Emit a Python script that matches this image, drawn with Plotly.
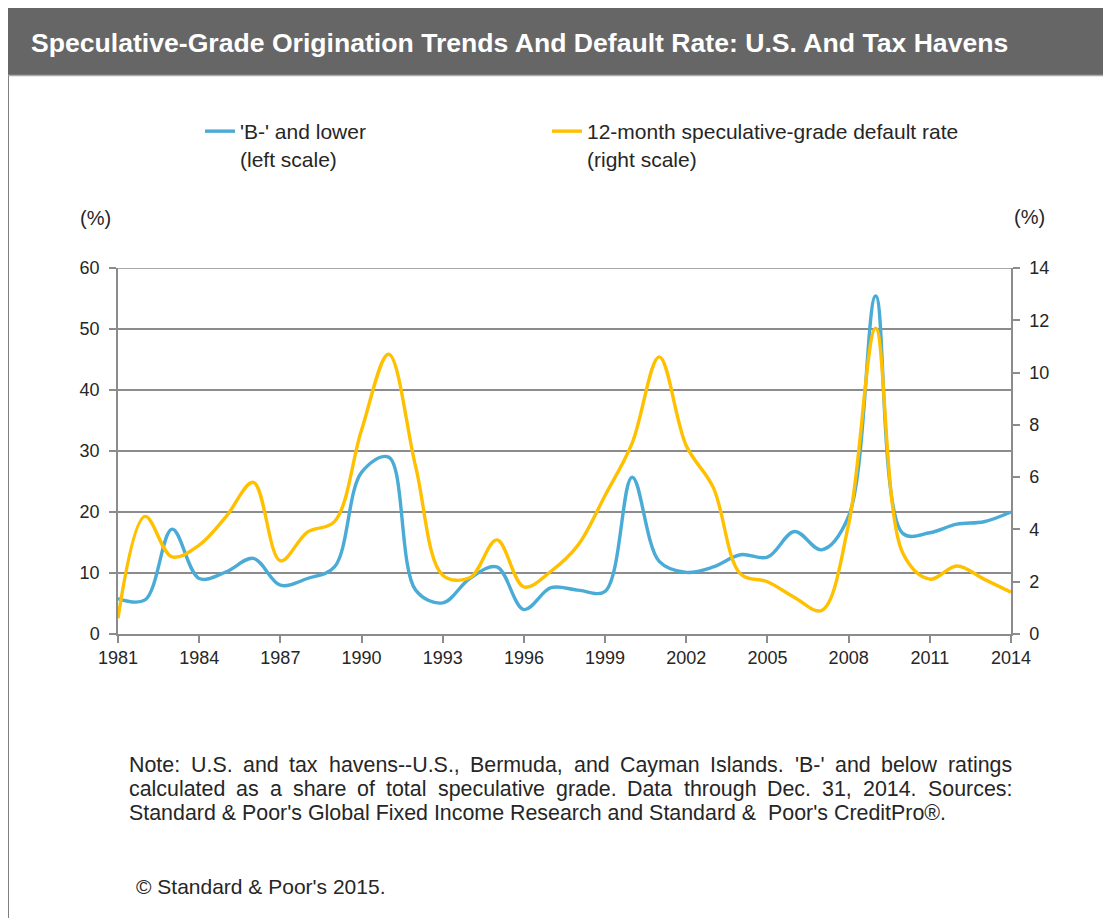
import plotly.graph_objects as go

# ---------------- data ----------------
years = list(range(1981, 2015))
b_minus_share = [5.8, 5.6, 17.2, 9.1, 10.2, 12.4, 8.0, 9.1, 11.0, 26.5,
                 29.0, 7.2, 5.1, 9.1, 11.0, 4.0, 7.6, 7.2, 7.0, 25.7,
                 11.9, 10.1, 11.0, 13.0, 12.6, 16.8, 13.8, 19.3, 55.4, 16.5,
                 16.6, 18.0, 18.4, 20.0]
default_rate = [0.6, 4.5, 2.95, 3.4, 4.5, 5.8, 2.8, 3.9, 4.3, 7.8,
                10.7, 6.4, 2.25, 2.15, 3.6, 1.8, 2.4, 3.4, 5.3, 7.3,
                10.6, 7.2, 5.6, 2.3, 2.0, 1.4, 0.9, 4.2, 11.7, 3.1,
                2.1, 2.6, 2.1, 1.6]
x_ticks = list(range(1981, 2015, 3))
left_ticks = [0, 10, 20, 30, 40, 50, 60]
right_ticks = [0, 2, 4, 6, 8, 10, 12, 14]

series_names = ["'B-' and lower<br>(left scale)",
                "12-month speculative-grade default rate<br>(right scale)"]
title_text = "Speculative-Grade Origination Trends And Default Rate: U.S. And Tax Havens"
note_lines = [
    "Note: U.S. and tax havens--U.S., Bermuda, and Cayman Islands. 'B-' and below  ratings",
    "calculated as a share of total speculative grade. Data through Dec. 31,  2014. Sources:",
    "Standard & Poor's Global Fixed Income Research and Standard &  Poor's CreditPro®.",
]
copyright_text = "© Standard & Poor's 2015."

# ---------------- layout helpers ----------------
W, H = 1111, 918
OFF = 8                                   # page body margin
# plot area in page (reference) pixels
RL, RR, RT, RB = 118, 1011, 268, 634
PL, PR, PT, PB = RL - OFF, RR - OFF, RT - OFF, RB - OFF


def px(xr):
    return (xr - RL) / (RR - RL)


def py(yr):
    return (RB - yr) / (RB - RT)


FONT = "Liberation Sans, Arial, sans-serif"
BLUE = "#4AACD6"
YELLOW = "#FFC000"
GRID = "#8C8C8C"
TEXT = "#262626"

# Arial / Liberation Sans advance widths (1/1000 em) for text justification
AW = {' ': 278, '!': 278, "'": 191, '(': 333, ')': 333, ',': 278, '-': 333, '.': 278,
      ':': 278, '&': 667, '®': 737, '©': 737,
      '0': 556, '1': 556, '2': 556, '3': 556, '4': 556, '5': 556, '6': 556, '7': 556,
      '8': 556, '9': 556,
      'A': 667, 'B': 667, 'C': 722, 'D': 722, 'E': 667, 'F': 611, 'G': 778, 'H': 722,
      'I': 278, 'J': 500, 'K': 667, 'L': 556, 'M': 833, 'N': 722, 'O': 778, 'P': 667,
      'Q': 778, 'R': 722, 'S': 667, 'T': 611, 'U': 722, 'V': 667, 'W': 944, 'X': 667,
      'Y': 667, 'Z': 611,
      'a': 556, 'b': 556, 'c': 500, 'd': 556, 'e': 556, 'f': 278, 'g': 556, 'h': 556,
      'i': 222, 'j': 222, 'k': 500, 'l': 222, 'm': 833, 'n': 556, 'o': 556, 'p': 556,
      'q': 556, 'r': 333, 's': 500, 't': 278, 'u': 556, 'v': 500, 'w': 722, 'x': 500,
      'y': 500, 'z': 500}


def text_w(s, size):
    return sum(AW.get(c, 556) for c in s) * size / 1000.0


fig = go.Figure()
fig.add_trace(go.Scatter(x=years, y=b_minus_share, name=series_names[0],
                         mode="lines", line=dict(color=BLUE, width=3.4, shape="spline", smoothing=1.0),
                         yaxis="y", legend="legend"))
fig.add_trace(go.Scatter(x=years, y=default_rate, name=series_names[1],
                         mode="lines", line=dict(color=YELLOW, width=3.4, shape="spline", smoothing=1.0),
                         yaxis="y2", legend="legend2"))

LEG_FONT = 21
leg_common = dict(orientation="v", xanchor="left", yanchor="top", valign="top",
                  font=dict(size=LEG_FONT, color=TEXT), bgcolor="rgba(0,0,0,0)",
                  itemclick=False, itemdoubleclick=False)

fig.update_layout(
    width=W, height=H,
    margin=dict(l=PL, r=W - PR, t=PT, b=H - PB, pad=0),
    paper_bgcolor="white", plot_bgcolor="white",
    font=dict(family=FONT, size=16, color=TEXT),
    showlegend=True,
    legend=dict(x=px(200), y=py(111), **leg_common),
    legend2=dict(x=px(547), y=py(111), **leg_common),
    xaxis=dict(range=[1981, 2014], tickmode="array", tickvals=x_ticks,
               ticktext=[str(t) for t in x_ticks],
               showgrid=False, zeroline=False, showline=True, linecolor=GRID, linewidth=1.5,
               ticks="outside", ticklen=7, tickcolor=GRID, tickwidth=1.5,
               tickfont=dict(size=18, color=TEXT), fixedrange=True),
    yaxis=dict(range=[0, 60], tickmode="array", tickvals=left_ticks,
               showgrid=True, gridcolor=GRID, gridwidth=1.5, zeroline=False,
               showline=True, linecolor=GRID, linewidth=1.5,
               ticks="outside", ticklen=7, tickcolor=GRID, tickwidth=1.5,
               ticklabelstandoff=6,
               tickfont=dict(size=18, color=TEXT), fixedrange=True),
    yaxis2=dict(range=[0, 14], tickmode="array", tickvals=right_ticks,
                overlaying="y", side="right", showgrid=False, zeroline=False,
                showline=True, linecolor=GRID, linewidth=1.5,
                ticks="outside", ticklen=7, tickcolor=GRID, tickwidth=1.5,
                ticklabelstandoff=6,
                tickfont=dict(size=18, color=TEXT), fixedrange=True),
)

shapes = [
    # header band
    dict(type="rect", xref="paper", yref="paper", x0=px(4), x1=px(W + 20), y0=py(75), y1=py(8),
         fillcolor="#666666", line=dict(width=0), layer="below"),
    dict(type="line", xref="paper", yref="paper", x0=px(4), x1=px(W + 20), y0=py(75.5), y1=py(75.5),
         line=dict(color="#AAAAAA", width=1.5)),
    # left frame line
    dict(type="line", xref="paper", yref="paper", x0=px(8), x1=px(8), y0=py(76), y1=py(H + 20),
         line=dict(color="#7F7F7F", width=2)),
    # top gridline at 60
    dict(type="line", xref="paper", yref="y", x0=0, x1=1, y0=60, y1=60,
         line=dict(color=GRID, width=1.5), layer="below"),
]

annotations = [
    dict(text="<b>" + title_text + "</b>", xref="paper", yref="paper", x=px(29), y=py(43),
         xanchor="left", yanchor="middle", showarrow=False,
         font=dict(family=FONT, size=26.6, color="white")),
    dict(text="(%)", xref="paper", yref="paper", x=px(95), y=py(218),
         xanchor="center", yanchor="middle", showarrow=False, font=dict(size=20, color=TEXT)),
    dict(text="(%)", xref="paper", yref="paper", x=px(1030), y=py(217),
         xanchor="center", yanchor="middle", showarrow=False, font=dict(size=20, color=TEXT)),
    dict(text=copyright_text, xref="paper", yref="paper", x=px(134), y=py(886),
         xanchor="left", yanchor="middle", showarrow=False, font=dict(size=21, color=TEXT)),
]

# justified note block (last line left-aligned)
NOTE_FONT = 21.4
NOTE_L, NOTE_R = 127, 1010
for i, line in enumerate(note_lines):
    yline = py(765 + 24 * i)
    if i < len(note_lines) - 1:
        words = line.split()
        widths = [text_w(w, NOTE_FONT) for w in words]
        gap = (NOTE_R - NOTE_L - sum(widths)) / (len(words) - 1)
        xcur = NOTE_L
        for w, ww in zip(words, widths):
            annotations.append(dict(text=w, xref="paper", yref="paper", x=px(xcur), y=yline,
                                    xanchor="left", yanchor="middle", showarrow=False,
                                    font=dict(size=NOTE_FONT, color=TEXT)))
            xcur += ww + gap
    else:
        annotations.append(dict(text=line, xref="paper", yref="paper", x=px(NOTE_L), y=yline,
                                xanchor="left", yanchor="middle", showarrow=False,
                                font=dict(size=NOTE_FONT, color=TEXT)))

fig.update_layout(shapes=shapes, annotations=annotations)

fig.write_html("out.html", config={"displayModeBar": False})
